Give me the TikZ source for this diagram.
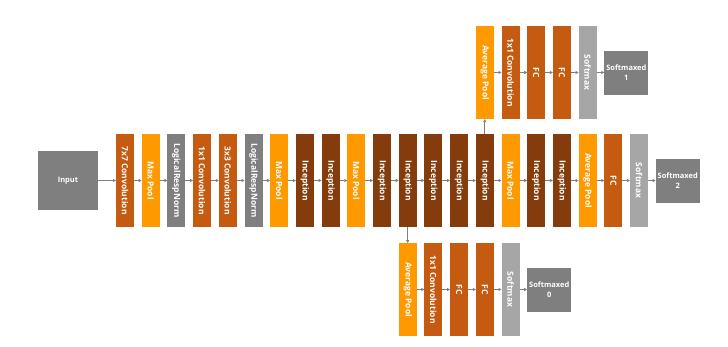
\documentclass[tikz,border=0pt]{standalone}
\usepackage{fontspec}
\setsansfont{Open Sans}
\usepackage{tikz}
\usetikzlibrary{positioning,arrows.meta}
\definecolor{GNConv}{HTML}{C55A11}
\definecolor{GNPool}{HTML}{FF9900}
\definecolor{GNNorm}{HTML}{7F7F7F}
\definecolor{GNIncep}{HTML}{843C0C}
\definecolor{GNSoft}{HTML}{A6A6A6}
\definecolor{GNOut}{HTML}{7F7F7F}
\definecolor{GNArrow}{HTML}{808080}

\begin{document}
\begin{tikzpicture}[
  x=1bp, y=-1bp,
  node distance=7.7bp and 7.7bp,
  layer/.style={minimum width=18bp, minimum height=93bp, inner sep=0pt, outer sep=0pt, text=white, font=\sffamily\bfseries\fontsize{8.5}{9}\selectfont},
  gnconv/.style={layer, fill=GNConv},
  gnpool/.style={layer, fill=GNPool},
  gnnorm/.style={layer, fill=GNNorm},
  gnincep/.style={layer, fill=GNIncep},
  gnsoft/.style={layer, fill=GNSoft},
  gnout/.style={fill=GNOut, minimum width=44bp, minimum height=44bp, inner sep=0pt, outer sep=0pt, align=center, text=white, font=\sffamily\bfseries\fontsize{7.5}{10}\selectfont},
  gnarrow/.style={-{Triangle[length=3bp,width=3bp]}, line width=0.8bp, GNArrow}
]
\useasboundingbox (0,0) rectangle (728,346);
\node[gnout, minimum width=60bp, minimum height=59bp] (input) at (68,180.5) {Input};
% main row
\node[gnconv, right=18bp of input] (conv1) {\rotatebox{-90}{7x7 Convolution}};
\node[gnpool, right=of conv1] (pool1) {\rotatebox{-90}{Max Pool}};
\node[gnnorm, right=of pool1] (norm1) {\rotatebox{-90}{LogicalRespNorm}};
\node[gnconv, right=of norm1] (conv2a) {\rotatebox{-90}{1x1 Convolution}};
\node[gnconv, right=of conv2a] (conv2b) {\rotatebox{-90}{3x3 Convolution}};
\node[gnnorm, right=of conv2b] (norm2) {\rotatebox{-90}{LogicalRespNorm}};
\node[gnpool, right=of norm2] (pool2) {\rotatebox{-90}{Max Pool}};
\node[gnincep, right=of pool2] (inc3a) {\rotatebox{-90}{Inception}};
\node[gnincep, right=of inc3a] (inc3b) {\rotatebox{-90}{Inception}};
\node[gnpool, right=of inc3b] (pool3) {\rotatebox{-90}{Max Pool}};
\node[gnincep, right=of pool3] (inc4a) {\rotatebox{-90}{Inception}};
\node[gnincep, right=of inc4a] (inc4b) {\rotatebox{-90}{Inception}};
\node[gnincep, right=of inc4b] (inc4c) {\rotatebox{-90}{Inception}};
\node[gnincep, right=of inc4c] (inc4d) {\rotatebox{-90}{Inception}};
\node[gnincep, right=of inc4d] (inc4e) {\rotatebox{-90}{Inception}};
\node[gnpool, right=of inc4e] (pool4) {\rotatebox{-90}{Max Pool}};
\node[gnincep, right=of pool4] (inc5a) {\rotatebox{-90}{Inception}};
\node[gnincep, right=of inc5a] (inc5b) {\rotatebox{-90}{Inception}};
\node[gnpool, right=of inc5b] (avg2) {\rotatebox{-90}{Average Pool}};
\node[gnconv, right=of avg2] (fc2) {\rotatebox{-90}{FC}};
\node[gnsoft, right=of fc2] (soft2) {\rotatebox{-90}{Softmax}};
\node[gnout, right=of soft2] (out2) {Softmaxed\\2};
% upper side branch
\node[gnpool, above=15bp of inc4e] (avg1) {\rotatebox{-90}{Average Pool}};
\node[gnconv, right=of avg1] (conv1x1a) {\rotatebox{-90}{1x1 Convolution}};
\node[gnconv, right=of conv1x1a] (fc1a) {\rotatebox{-90}{FC}};
\node[gnconv, right=of fc1a] (fc1b) {\rotatebox{-90}{FC}};
\node[gnsoft, right=of fc1b] (soft1) {\rotatebox{-90}{Softmax}};
\node[gnout, right=of soft1] (out1) {Softmaxed\\1};
% lower side branch
\node[gnpool, below=16bp of inc4b] (avg0) {\rotatebox{-90}{Average Pool}};
\node[gnconv, right=of avg0] (conv1x1b) {\rotatebox{-90}{1x1 Convolution}};
\node[gnconv, right=of conv1x1b] (fc0a) {\rotatebox{-90}{FC}};
\node[gnconv, right=of fc0a] (fc0b) {\rotatebox{-90}{FC}};
\node[gnsoft, right=of fc0b] (soft0) {\rotatebox{-90}{Softmax}};
\node[gnout, right=of soft0] (out0) {Softmaxed\\0};
% connectors
\draw[gnarrow] (input) -- (conv1);
\draw[gnarrow] (conv1) -- (pool1);
\draw[gnarrow] (pool1) -- (norm1);
\draw[gnarrow] (norm1) -- (conv2a);
\draw[gnarrow] (conv2a) -- (conv2b);
\draw[gnarrow] (conv2b) -- (norm2);
\draw[gnarrow] (norm2) -- (pool2);
\draw[gnarrow] (pool2) -- (inc3a);
\draw[gnarrow] (inc3a) -- (inc3b);
\draw[gnarrow] (inc3b) -- (pool3);
\draw[gnarrow] (pool3) -- (inc4a);
\draw[gnarrow] (inc4a) -- (inc4b);
\draw[gnarrow] (inc4b) -- (inc4c);
\draw[gnarrow] (inc4c) -- (inc4d);
\draw[gnarrow] (inc4d) -- (inc4e);
\draw[gnarrow] (inc4e) -- (pool4);
\draw[gnarrow] (pool4) -- (inc5a);
\draw[gnarrow] (inc5a) -- (inc5b);
\draw[gnarrow] (inc5b) -- (avg2);
\draw[gnarrow] (avg2) -- (fc2);
\draw[gnarrow] (fc2) -- (soft2);
\draw[gnarrow] (soft2) -- (out2);
\draw[gnarrow] (inc4e) -- (avg1);
\draw[gnarrow] (avg1) -- (conv1x1a);
\draw[gnarrow] (conv1x1a) -- (fc1a);
\draw[gnarrow] (fc1a) -- (fc1b);
\draw[gnarrow] (fc1b) -- (soft1);
\draw[gnarrow] (soft1) -- (out1);
\draw[gnarrow] (inc4b) -- (avg0);
\draw[gnarrow] (avg0) -- (conv1x1b);
\draw[gnarrow] (conv1x1b) -- (fc0a);
\draw[gnarrow] (fc0a) -- (fc0b);
\draw[gnarrow] (fc0b) -- (soft0);
\draw[gnarrow] (soft0) -- (out0);
\end{tikzpicture}
\end{document}
